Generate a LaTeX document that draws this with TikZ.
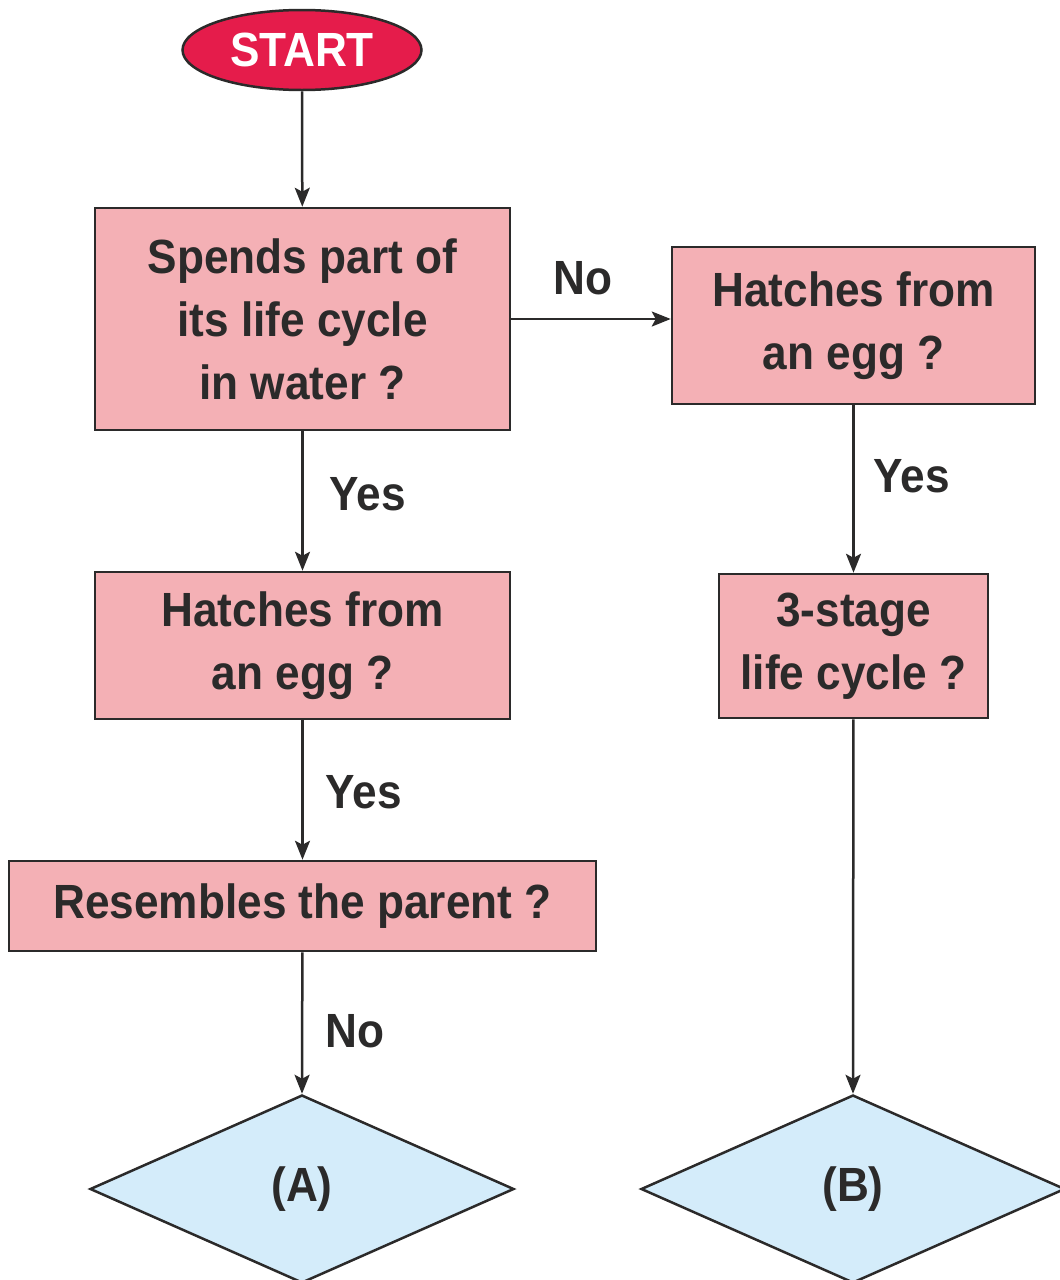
\documentclass[tikz,border=0pt]{standalone}
\usepackage{fontspec}
\setmainfont{Liberation Sans}[FakeStretch=0.92,BoldFont={* Bold},BoldFeatures={FakeStretch=0.92}]
\usetikzlibrary{shapes.geometric,arrows.meta}
\definecolor{boxpink}{HTML}{F4B0B5}
\definecolor{startred}{HTML}{E51C4B}
\definecolor{diablue}{HTML}{D4ECFA}
\definecolor{ink}{HTML}{2B2A2A}
\tikzset{
  qbox/.style={draw=ink, line width=2.5pt, fill=boxpink, inner sep=0pt, align=center,
    text=ink, font=\bfseries\fontsize{48}{63}\selectfont},
  startnode/.style={ellipse, draw=ink, line width=2.5pt, fill=startred, inner sep=0pt,
    minimum width=239pt, minimum height=80pt, text=white, font=\bfseries\fontsize{48}{60}\selectfont},
  resultnode/.style={diamond, draw=ink, line width=2.5pt, fill=diablue, inner sep=0pt,
    minimum width=424pt, minimum height=188pt, text=ink, font=\bfseries\fontsize{48}{60}\selectfont},
  lbl/.style={text=ink, font=\bfseries\fontsize{48}{60}\selectfont, inner sep=0pt},
  flow/.style={draw=ink, line width=2.5pt, -{Stealth[length=19pt,width=15pt,inset=4pt]}},
}
\begin{document}
\begin{tikzpicture}[x=1pt,y=-1pt]
\useasboundingbox (0,0) rectangle (1060,1280);
\node[startnode] (start) at (302,50) {START};
\node[qbox, minimum width=415pt, minimum height=222pt] (water) at (302.5,319) {Spends part of\\its life cycle\\in water ?};
\node[qbox, minimum width=363pt, minimum height=157pt] (eggR) at (853.5,325.5) {Hatches from\\an egg ?};
\node[qbox, minimum width=415pt, minimum height=147pt] (eggL) at (302.5,645.5) {Hatches from\\an egg ?};
\node[qbox, minimum width=269pt, minimum height=144pt] (stage) at (853.5,646) {3-stage\\life cycle ?};
\node[qbox, minimum width=587pt, minimum height=90pt] (parent) at (302.5,906) {Resembles the parent ?};
\node[resultnode] (A) at (302,1189) {(A)};
\node[resultnode] (B) at (853,1189) {(B)};
\draw[flow] (start) -- (water);
\draw[flow] (water.east) -- (water.east -| eggR.west);
\draw[flow] (water) -- (eggL);
\draw[flow] (eggL) -- (parent);
\draw[flow] (parent) -- (A.north);
\draw[flow] (eggR) -- (stage);
\draw[flow] (stage) -- (B.north);
\node[lbl] (lno1) at (583,278) {No};
\node[lbl] (lyes1) at (368,494) {Yes};
\node[lbl] (lyes2) at (912,476) {Yes};
\node[lbl] (lyes3) at (364,792) {Yes};
\node[lbl] (lno2) at (355,1031) {No};
\end{tikzpicture}
\end{document}
